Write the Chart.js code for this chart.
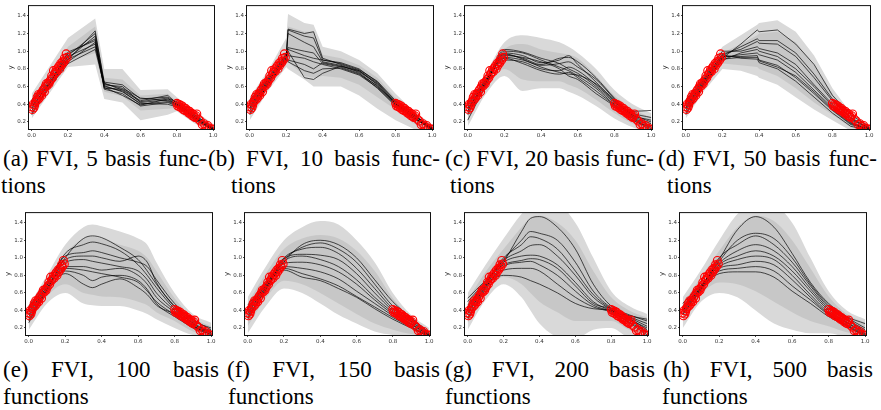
<!DOCTYPE html>
<html><head><meta charset="utf-8">
<script src="https://cdn.jsdelivr.net/npm/chart.js@4.4.1/dist/chart.umd.min.js"></script>
<style>
html,body{margin:0;padding:0;background:#fff;}
body{width:881px;height:410px;position:relative;overflow:hidden;}
canvas{position:absolute;}
.cap{position:absolute;font-family:"Liberation Serif","Times New Roman",serif;font-size:23px;line-height:24px;color:#000;white-space:nowrap;}
.j{display:flex;justify-content:space-between;}
</style></head><body>
<script>
// ---------- shared data ----------
const xTicks = [0.0, 0.2, 0.4, 0.6, 0.8, 1.0];
const yTicks = [0.2, 0.4, 0.6, 0.8, 1.0, 1.2, 1.4];

const obsXL = [0.000,0.004,0.008,0.012,0.016,0.020,0.025,0.030,0.034,0.038,0.042,0.046,0.050,0.055,0.060,0.066,0.070,0.075,0.080,0.085,0.090,0.095,0.100,0.106,0.110,0.115,0.120,0.125,0.130,0.135,0.140,0.145,0.150,0.155,0.160,0.165,0.170,0.175,0.180,0.185,0.190,0.195];
const obsYL = [0.37,0.34,0.40,0.36,0.39,0.42,0.44,0.48,0.45,0.51,0.47,0.50,0.52,0.50,0.55,0.57,0.54,0.60,0.63,0.61,0.64,0.63,0.66,0.68,0.72,0.70,0.78,0.74,0.76,0.79,0.77,0.81,0.83,0.80,0.86,0.84,0.88,0.87,0.92,0.90,0.97,0.93];
const obsXR = [0.800,0.805,0.810,0.815,0.820,0.825,0.830,0.835,0.840,0.845,0.850,0.855,0.860,0.865,0.870,0.875,0.880,0.885,0.890,0.895,0.900,0.905,0.910,0.920,0.930,0.940,0.950,0.960,0.970,0.980,0.990,1.000];
const obsYR = [0.41,0.38,0.40,0.37,0.39,0.36,0.38,0.34,0.36,0.33,0.35,0.32,0.33,0.30,0.32,0.29,0.30,0.27,0.29,0.26,0.25,0.27,0.29,0.23,0.21,0.17,0.18,0.15,0.16,0.13,0.12,0.12];

// ---------- (a) 5 basis functions ----------
const aX   = [0, 0.2, 0.35, 0.4, 0.5, 0.6, 0.75, 0.8, 0.9, 1.0];
const aHi  = [0.52, 1.15, 1.37, 0.80, 0.80, 0.56, 0.57, 0.48, 0.32, 0.18];
const aLo  = [0.24, 0.82, 0.85, 0.46, 0.42, 0.22, 0.28, 0.32, 0.18, 0.09];
const aHi2 = [0.45, 1.05, 1.28, 0.70, 0.68, 0.50, 0.52, 0.44, 0.28, 0.15];
const aLo2 = [0.30, 0.88, 0.98, 0.54, 0.49, 0.33, 0.35, 0.36, 0.22, 0.11];
const aLines = [
 [0.30, 0.90, 1.23, 0.62, 0.60, 0.42, 0.45, 0.40, 0.26, 0.12],
 [0.35, 0.95, 1.20, 0.65, 0.62, 0.46, 0.48, 0.42, 0.25, 0.13],
 [0.40, 0.92, 1.17, 0.60, 0.55, 0.40, 0.43, 0.39, 0.24, 0.11],
 [0.45, 0.97, 1.14, 0.58, 0.57, 0.44, 0.50, 0.41, 0.27, 0.14],
 [0.28, 0.99, 1.12, 0.57, 0.52, 0.38, 0.42, 0.38, 0.23, 0.12],
 [0.38, 0.88, 1.10, 0.63, 0.58, 0.47, 0.44, 0.40, 0.25, 0.10],
 [0.42, 0.94, 1.08, 0.59, 0.50, 0.39, 0.46, 0.43, 0.28, 0.13],
 [0.33, 0.86, 1.02, 0.61, 0.54, 0.41, 0.40, 0.37, 0.22, 0.11],
 [0.37, 0.91, 1.05, 0.64, 0.56, 0.43, 0.47, 0.39, 0.24, 0.12]
];

// ---------- (b) 10 basis functions ----------
const bX   = [0, 0.1, 0.2, 0.21, 0.3, 0.35, 0.4, 0.5, 0.6, 0.7, 0.8, 0.9, 1.0];
const bHi  = [0.48, 0.78, 1.15, 1.42, 1.32, 1.30, 1.05, 1.00, 0.90, 0.75, 0.52, 0.32, 0.17];
const bLo  = [0.22, 0.55, 0.82, 0.80, 0.68, 0.60, 0.60, 0.60, 0.50, 0.35, 0.22, 0.12, 0.08];
const bHi2 = [0.43, 0.72, 1.00, 1.28, 1.22, 1.22, 0.96, 0.92, 0.84, 0.70, 0.47, 0.30, 0.15];
const bLo2 = [0.28, 0.60, 0.86, 0.88, 0.72, 0.70, 0.72, 0.70, 0.62, 0.48, 0.34, 0.18, 0.10];
const bLines = [
 [0.30, 0.62, 0.90, 1.25, 1.20, 1.22, 0.92, 0.85, 0.78, 0.62, 0.40, 0.25, 0.12],
 [0.35, 0.65, 0.93, 1.24, 1.17, 1.15, 0.90, 0.87, 0.80, 0.65, 0.43, 0.27, 0.13],
 [0.40, 0.68, 0.95, 1.20, 1.10, 1.05, 0.88, 0.84, 0.76, 0.60, 0.41, 0.28, 0.11],
 [0.45, 0.70, 0.97, 1.04, 1.00, 0.98, 0.86, 0.82, 0.75, 0.58, 0.38, 0.24, 0.14],
 [0.28, 0.63, 0.88, 1.02, 0.95, 0.92, 0.90, 0.86, 0.79, 0.66, 0.44, 0.29, 0.12],
 [0.38, 0.66, 0.92, 0.95, 0.92, 0.88, 0.85, 0.80, 0.73, 0.59, 0.39, 0.26, 0.10],
 [0.33, 0.64, 0.91, 0.90, 0.85, 0.80, 0.87, 0.83, 0.77, 0.63, 0.42, 0.23, 0.13],
 [0.42, 0.69, 0.96, 0.88, 0.78, 0.75, 0.80, 0.81, 0.74, 0.61, 0.40, 0.27, 0.15],
 [0.36, 0.67, 0.94, 1.00, 0.70, 0.68, 0.75, 0.83, 0.78, 0.64, 0.41, 0.25, 0.11]
];

// ---------- (c) 20 basis functions ----------
const cX   = [0, 0.1, 0.2, 0.3, 0.4, 0.5, 0.55, 0.6, 0.7, 0.8, 0.9, 1.0];
const cHi  = [0.45, 0.76, 1.10, 1.18, 1.15, 1.10, 1.05, 0.98, 0.80, 0.56, 0.40, 0.30];
const cLo  = [0.15, 0.52, 0.72, 0.55, 0.58, 0.58, 0.54, 0.50, 0.38, 0.24, 0.14, 0.08];
const cHi2 = [0.40, 0.72, 1.02, 1.08, 1.02, 0.98, 0.96, 0.92, 0.72, 0.50, 0.35, 0.25];
const cLo2 = [0.22, 0.58, 0.80, 0.68, 0.66, 0.66, 0.62, 0.58, 0.45, 0.30, 0.18, 0.10];
const cLines = [
 [0.22, 0.62, 1.00, 0.98, 0.90, 0.82, 0.78, 0.72, 0.58, 0.40, 0.28, 0.20],
 [0.30, 0.64, 1.02, 0.99, 0.92, 0.86, 0.80, 0.75, 0.60, 0.42, 0.30, 0.25],
 [0.35, 0.66, 0.98, 0.95, 0.87, 0.90, 0.95, 0.85, 0.65, 0.44, 0.32, 0.33],
 [0.38, 0.68, 0.96, 0.92, 0.85, 0.92, 0.93, 0.88, 0.70, 0.47, 0.28, 0.22],
 [0.40, 0.69, 0.93, 0.90, 0.84, 0.86, 0.88, 0.82, 0.68, 0.46, 0.26, 0.15],
 [0.33, 0.67, 0.90, 0.88, 0.80, 0.78, 0.82, 0.78, 0.62, 0.43, 0.25, 0.12],
 [0.28, 0.65, 0.92, 0.86, 0.78, 0.74, 0.76, 0.70, 0.55, 0.39, 0.24, 0.10],
 [0.36, 0.63, 0.95, 0.93, 0.88, 0.80, 0.72, 0.68, 0.52, 0.38, 0.22, 0.14],
 [0.32, 0.66, 0.97, 0.91, 0.82, 0.76, 0.74, 0.73, 0.63, 0.45, 0.27, 0.18]
];

// ---------- (d) 50 basis functions ----------
const dX   = [0, 0.1, 0.2, 0.3, 0.39, 0.4, 0.5, 0.6, 0.7, 0.8, 0.9, 1.0];
const dHi  = [0.45, 0.76, 1.05, 1.18, 1.30, 1.32, 1.35, 1.22, 0.95, 0.58, 0.30, 0.17];
const dLo  = [0.24, 0.55, 0.80, 0.78, 0.72, 0.70, 0.62, 0.48, 0.34, 0.22, 0.10, 0.08];
const dHi2 = [0.40, 0.72, 0.98, 1.08, 1.18, 1.20, 1.22, 1.10, 0.85, 0.52, 0.26, 0.15];
const dLo2 = [0.30, 0.60, 0.86, 0.84, 0.82, 0.80, 0.72, 0.58, 0.42, 0.28, 0.14, 0.09];
const dLines = [
 [0.30, 0.62, 0.92, 1.08, 1.24, 1.22, 1.24, 1.08, 0.85, 0.50, 0.28, 0.15],
 [0.35, 0.65, 0.95, 1.05, 1.14, 1.12, 1.12, 0.98, 0.74, 0.46, 0.25, 0.13],
 [0.40, 0.68, 0.97, 1.02, 1.11, 1.09, 1.08, 0.94, 0.70, 0.44, 0.24, 0.12],
 [0.45, 0.70, 1.00, 1.00, 1.05, 1.03, 0.98, 0.85, 0.62, 0.40, 0.22, 0.14],
 [0.28, 0.63, 0.90, 0.98, 1.02, 1.00, 0.94, 0.80, 0.60, 0.38, 0.20, 0.11],
 [0.38, 0.66, 0.93, 0.96, 0.98, 0.96, 0.90, 0.76, 0.56, 0.36, 0.19, 0.10],
 [0.33, 0.64, 0.91, 0.93, 0.93, 0.90, 0.84, 0.70, 0.52, 0.33, 0.17, 0.12],
 [0.42, 0.69, 0.96, 0.92, 0.91, 0.87, 0.80, 0.66, 0.48, 0.30, 0.15, 0.11],
 [0.36, 0.67, 0.94, 0.94, 0.95, 0.89, 0.82, 0.72, 0.54, 0.34, 0.18, 0.13]
];

// ---------- (e) 100 basis functions ----------
const eX   = [0, 0.1, 0.2, 0.3, 0.35, 0.4, 0.5, 0.6, 0.65, 0.7, 0.8, 0.9, 1.0];
const eHi  = [0.45, 0.80, 1.15, 1.35, 1.38, 1.36, 1.30, 1.22, 1.15, 0.95, 0.60, 0.36, 0.26];
const eLo  = [0.18, 0.48, 0.60, 0.48, 0.46, 0.45, 0.45, 0.40, 0.36, 0.30, 0.20, 0.12, 0.10];
const eHi2 = [0.40, 0.74, 1.05, 1.22, 1.24, 1.22, 1.15, 1.08, 1.00, 0.85, 0.54, 0.32, 0.22];
const eLo2 = [0.24, 0.56, 0.70, 0.60, 0.58, 0.56, 0.55, 0.50, 0.46, 0.38, 0.28, 0.16, 0.12];
const eLines = [
 [0.30, 0.65, 1.00, 1.22, 1.25, 1.23, 1.12, 0.98, 0.85, 0.70, 0.45, 0.28, 0.20],
 [0.35, 0.68, 1.05, 1.15, 1.18, 1.16, 1.08, 0.92, 0.80, 0.66, 0.42, 0.26, 0.15],
 [0.40, 0.70, 1.02, 1.06, 1.08, 1.06, 1.00, 0.95, 0.90, 0.75, 0.48, 0.30, 0.18],
 [0.45, 0.72, 0.98, 1.02, 1.02, 1.00, 0.96, 1.02, 0.95, 0.72, 0.44, 0.25, 0.14],
 [0.28, 0.63, 0.95, 0.98, 0.96, 0.94, 0.90, 0.85, 0.75, 0.60, 0.40, 0.23, 0.12],
 [0.38, 0.66, 0.90, 0.90, 0.88, 0.86, 0.88, 0.80, 0.70, 0.55, 0.38, 0.22, 0.16],
 [0.33, 0.64, 0.88, 0.86, 0.84, 0.82, 0.78, 0.72, 0.62, 0.50, 0.35, 0.20, 0.13],
 [0.42, 0.69, 0.85, 0.80, 0.74, 0.78, 0.80, 0.74, 0.64, 0.48, 0.33, 0.21, 0.15],
 [0.26, 0.62, 0.82, 0.70, 0.66, 0.70, 0.76, 0.66, 0.58, 0.46, 0.36, 0.24, 0.17]
];

// ---------- (f) 150 basis functions ----------
const fX   = [0, 0.1, 0.2, 0.3, 0.4, 0.5, 0.6, 0.7, 0.8, 0.9, 1.0];
const fHi  = [0.55, 0.90, 1.20, 1.35, 1.42, 1.38, 1.20, 0.95, 0.60, 0.35, 0.20];
const fLo  = [0.14, 0.45, 0.65, 0.60, 0.48, 0.35, 0.25, 0.16, 0.12, 0.10, 0.10];
const fHi2 = [0.48, 0.82, 1.10, 1.22, 1.26, 1.22, 1.08, 0.85, 0.54, 0.32, 0.17];
const fLo2 = [0.22, 0.54, 0.74, 0.70, 0.60, 0.48, 0.36, 0.25, 0.18, 0.13, 0.11];
const fLines = [
 [0.32, 0.65, 0.95, 1.15, 1.20, 1.15, 1.00, 0.75, 0.50, 0.32, 0.15],
 [0.36, 0.67, 0.98, 1.12, 1.17, 1.10, 0.95, 0.70, 0.45, 0.30, 0.14],
 [0.40, 0.69, 1.00, 1.10, 1.12, 1.05, 0.88, 0.65, 0.42, 0.28, 0.13],
 [0.44, 0.70, 0.99, 1.04, 1.03, 0.98, 0.82, 0.60, 0.40, 0.27, 0.12],
 [0.30, 0.64, 0.96, 1.02, 0.98, 0.90, 0.75, 0.55, 0.38, 0.25, 0.11],
 [0.38, 0.66, 0.94, 0.95, 0.92, 0.84, 0.70, 0.52, 0.36, 0.24, 0.12],
 [0.34, 0.63, 0.90, 0.88, 0.84, 0.76, 0.62, 0.48, 0.34, 0.22, 0.10],
 [0.46, 0.71, 0.88, 0.82, 0.76, 0.68, 0.56, 0.44, 0.32, 0.21, 0.11],
 [0.42, 0.68, 0.86, 0.78, 0.74, 0.65, 0.55, 0.42, 0.30, 0.20, 0.10]
];

// ---------- (g) 200 basis functions ----------
const gX   = [0, 0.1, 0.2, 0.3, 0.35, 0.4, 0.5, 0.6, 0.7, 0.8, 0.9, 1.0];
const gHi  = [0.60, 0.92, 1.22, 1.50, 1.60, 1.60, 1.60, 1.40, 1.00, 0.62, 0.45, 0.36];
const gLo  = [0.18, 0.52, 0.70, 0.55, 0.40, 0.25, 0.10, 0.08, 0.18, 0.20, 0.10, 0.10];
const gHi2 = [0.52, 0.84, 1.10, 1.35, 1.45, 1.48, 1.40, 1.20, 0.85, 0.55, 0.40, 0.32];
const gLo2 = [0.26, 0.60, 0.78, 0.70, 0.60, 0.50, 0.38, 0.28, 0.28, 0.28, 0.18, 0.12];
const gLines = [
 [0.32, 0.66, 0.95, 1.30, 1.45, 1.47, 1.35, 1.10, 0.70, 0.45, 0.35, 0.28],
 [0.36, 0.68, 0.98, 1.20, 1.30, 1.28, 1.20, 0.95, 0.62, 0.43, 0.33, 0.25],
 [0.40, 0.70, 1.00, 1.15, 1.24, 1.22, 1.10, 0.85, 0.58, 0.42, 0.32, 0.22],
 [0.44, 0.71, 0.97, 1.08, 1.14, 1.15, 1.02, 0.80, 0.55, 0.41, 0.30, 0.20],
 [0.50, 0.73, 0.95, 1.02, 1.03, 1.02, 0.92, 0.72, 0.50, 0.40, 0.34, 0.30],
 [0.54, 0.74, 0.92, 0.97, 0.99, 0.98, 0.88, 0.68, 0.48, 0.42, 0.31, 0.18],
 [0.30, 0.64, 0.90, 0.95, 0.96, 0.92, 0.80, 0.62, 0.46, 0.39, 0.27, 0.15],
 [0.38, 0.67, 0.86, 0.88, 0.88, 0.85, 0.70, 0.55, 0.44, 0.38, 0.26, 0.12],
 [0.46, 0.69, 0.80, 0.78, 0.74, 0.70, 0.60, 0.48, 0.42, 0.40, 0.29, 0.16]
];

// ---------- (h) 500 basis functions ----------
const hX   = [0, 0.1, 0.2, 0.3, 0.4, 0.5, 0.6, 0.7, 0.8, 0.9, 1.0];
const hHi  = [0.55, 0.86, 1.20, 1.50, 1.62, 1.60, 1.40, 1.00, 0.62, 0.40, 0.30];
const hLo  = [0.20, 0.50, 0.60, 0.55, 0.40, 0.25, 0.18, 0.14, 0.14, 0.10, 0.10];
const hHi2 = [0.48, 0.78, 1.08, 1.35, 1.48, 1.42, 1.20, 0.88, 0.56, 0.36, 0.26];
const hLo2 = [0.28, 0.58, 0.72, 0.70, 0.62, 0.50, 0.38, 0.28, 0.22, 0.15, 0.12];
const hLines = [
 [0.40, 0.66, 0.98, 1.32, 1.47, 1.35, 1.05, 0.72, 0.48, 0.33, 0.25],
 [0.42, 0.67, 0.96, 1.20, 1.28, 1.22, 1.00, 0.70, 0.46, 0.32, 0.20],
 [0.38, 0.65, 1.00, 1.15, 1.25, 1.15, 0.95, 0.68, 0.44, 0.30, 0.18],
 [0.45, 0.68, 0.94, 1.08, 1.15, 1.08, 0.90, 0.65, 0.42, 0.29, 0.16],
 [0.36, 0.64, 0.92, 1.02, 1.08, 1.02, 0.85, 0.62, 0.40, 0.27, 0.14],
 [0.48, 0.69, 0.90, 0.98, 1.02, 0.98, 0.80, 0.58, 0.38, 0.26, 0.13],
 [0.35, 0.63, 0.88, 0.92, 0.96, 0.92, 0.75, 0.55, 0.36, 0.24, 0.12],
 [0.44, 0.66, 0.85, 0.88, 0.90, 0.85, 0.68, 0.52, 0.35, 0.23, 0.11],
 [0.40, 0.65, 0.82, 0.84, 0.84, 0.78, 0.62, 0.48, 0.33, 0.22, 0.10]
];

// ---------- captions ----------
const capNums = ['5','10','20','50','100','150','200','500'];
const capLetters = ['a','b','c','d','e','f','g','h'];

// ---------- layout ----------
const panels = [
 {x:aX,hi:aHi,lo:aLo,hi2:aHi2,lo2:aLo2,lines:aLines,smooth:false,L:29,R:214,T:5,B:129},
 {x:bX,hi:bHi,lo:bLo,hi2:bHi2,lo2:bLo2,lines:bLines,smooth:false,L:247,R:433,T:5,B:129},
 {x:cX,hi:cHi,lo:cLo,hi2:cHi2,lo2:cLo2,lines:cLines,smooth:true,L:465,R:652,T:5,B:129},
 {x:dX,hi:dHi,lo:dLo,hi2:dHi2,lo2:dLo2,lines:dLines,smooth:false,L:683,R:870,T:5,B:129},
 {x:eX,hi:eHi,lo:eLo,hi2:eHi2,lo2:eLo2,lines:eLines,smooth:true,L:26,R:212,T:212,B:335},
 {x:fX,hi:fHi,lo:fLo,hi2:fHi2,lo2:fLo2,lines:fLines,smooth:true,L:245,R:430,T:212,B:335},
 {x:gX,hi:gHi,lo:gLo,hi2:gHi2,lo2:gLo2,lines:gLines,smooth:true,L:465,R:648,T:212,B:335},
 {x:hX,hi:hHi,lo:hLo,hi2:hHi2,lo2:hLo2,lines:hLines,smooth:true,L:680,R:866,T:212,B:335}
];

const framePlugin = {
  id:'frame',
  afterDatasetsDraw(chart){
    const a = chart.chartArea, ctx = chart.ctx;
    ctx.save();
    ctx.strokeStyle = '#111';
    ctx.lineWidth = 1;
    ctx.strokeRect(a.left - 0.5, a.top - 0.5, a.right - a.left + 1, a.bottom - a.top + 1);
    ctx.restore();
  }
};

function pts(xs, ys){ return xs.map((x,i)=>({x:x, y:ys[i]})); }

function makeChart(p){
  const padL = 22, padT = 4, padR = 8, padB = 13;
  const w = p.R - p.L + padL + padR, h = p.B - p.T + padT + padB;
  const cv = document.createElement('canvas');
  cv.width = w; cv.height = h;
  cv.style.left = (p.L - padL) + 'px';
  cv.style.top = (p.T - padT) + 'px';
  cv.style.width = w + 'px'; cv.style.height = h + 'px';
  document.body.appendChild(cv);
  const interp = p.smooth ? 'monotone' : 'default';
  const ds = [];
  const ptStyle = {showLine:false, pointRadius:4, pointBorderColor:'#ff0000', pointBackgroundColor:'rgba(0,0,0,0)', pointBorderWidth:1.1, order:0};
  ds.push(Object.assign({data:pts(obsXL,obsYL)}, ptStyle));
  ds.push(Object.assign({data:pts(obsXR,obsYR)}, ptStyle));
  p.lines.forEach(l=>ds.push({data:pts(p.x,l), borderColor:'rgba(0,0,0,0.68)', borderWidth:1, pointRadius:0, tension:0, cubicInterpolationMode:interp, fill:false, order:1}));
  ds.push({data:pts(p.x,p.hi), borderColor:'rgba(0,0,0,0)', borderWidth:0, pointRadius:0, cubicInterpolationMode:interp, fill:'+1', backgroundColor:'#d9d9d9', order:3});
  ds.push({data:pts(p.x,p.lo), borderColor:'rgba(0,0,0,0)', borderWidth:0, pointRadius:0, cubicInterpolationMode:interp, fill:false, order:3});
  ds.push({data:pts(p.x,p.hi2), borderColor:'rgba(0,0,0,0)', borderWidth:0, pointRadius:0, cubicInterpolationMode:interp, fill:'+1', backgroundColor:'#c7c7c7', order:2});
  ds.push({data:pts(p.x,p.lo2), borderColor:'rgba(0,0,0,0)', borderWidth:0, pointRadius:0, cubicInterpolationMode:interp, fill:false, order:2});

  const tickFont = {size:5.5, family:'DejaVu Sans'};
  new Chart(cv, {
    type:'line',
    data:{datasets:ds},
    options:{
      responsive:false, animation:false, devicePixelRatio:1,
      layout:{padding:{left:0, top:padT, right:padR, bottom:0}},
      plugins:{legend:{display:false}, tooltip:{enabled:false}},
      scales:{
        x:{type:'linear', min:-0.015, max:1.005,
           afterBuildTicks:s=>{ s.ticks = xTicks.map(v=>({value:v})); },
           afterFit:s=>{ s.height = padB; },
           grid:{display:true, drawOnChartArea:false, drawTicks:true, tickLength:2, color:'#222', lineWidth:0.8},
           border:{display:false},
           ticks:{font:tickFont, color:'#333', padding:1, maxRotation:0, autoSkip:false, callback:v=>Number(v).toFixed(1)}},
        y:{type:'linear', min:0.12, max:1.51,
           afterBuildTicks:s=>{ s.ticks = yTicks.map(v=>({value:v})); },
           afterFit:s=>{ s.width = padL; },
           grid:{display:true, drawOnChartArea:false, drawTicks:true, tickLength:2, color:'#222', lineWidth:0.8},
           border:{display:false},
           title:{display:true, text:'y', font:{size:7, family:'DejaVu Sans'}, color:'#222', padding:0},
           ticks:{font:tickFont, color:'#333', padding:1, autoSkip:false, callback:v=>Number(v).toFixed(1)}}
      }
    },
    plugins:[framePlugin]
  });
}
panels.forEach(makeChart);

// captions
const line1 = [
 {l:3,w:204,t:147},{l:208,w:232,t:147},{l:445,w:209,t:147},{l:658,w:219,t:147},
 {l:3,w:216,t:358},{l:227,w:213,t:358},{l:445,w:210,t:358},{l:663,w:210,t:358}
];
const line2 = [
 {l:1,t:174},{l:231,t:174},{l:450,t:174},{l:667,t:174},
 {l:3,t:385},{l:228,t:385},{l:445,t:385},{l:662,t:385}
];
capLetters.forEach((c,i)=>{
  const words = i < 4 ? ['('+c+')','FVI,',capNums[i],'basis','func-'] : ['('+c+')','FVI,',capNums[i],'basis'];
  const d = document.createElement('div');
  d.className = 'cap j';
  d.style.left = line1[i].l + 'px'; d.style.top = line1[i].t + 'px'; d.style.width = line1[i].w + 'px';
  words.forEach(wd=>{ const s=document.createElement('span'); s.textContent=wd; d.appendChild(s); });
  document.body.appendChild(d);
  const d2 = document.createElement('div');
  d2.className = 'cap';
  d2.style.left = line2[i].l + 'px'; d2.style.top = line2[i].t + 'px';
  d2.textContent = i < 4 ? 'tions' : 'functions';
  document.body.appendChild(d2);
});
</script>
</body></html>
